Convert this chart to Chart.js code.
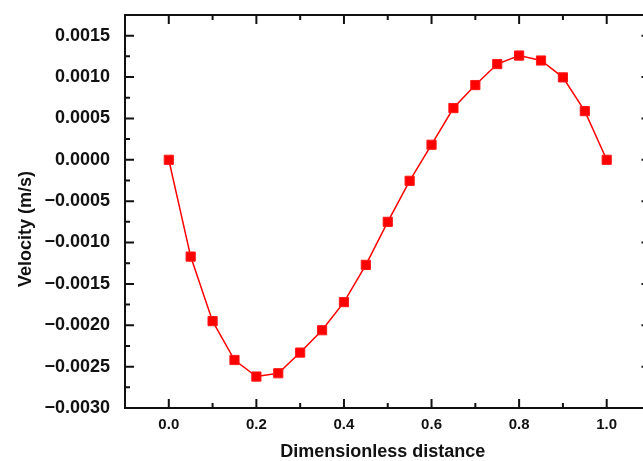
<!DOCTYPE html>
<html>
<head>
<meta charset="utf-8">
<script src="https://cdn.jsdelivr.net/npm/chart.js@4.4.1/dist/chart.umd.min.js"></script>
<style>
  html, body { margin: 0; padding: 0; background: #fff; overflow: hidden; }
  #wrap { width: 643px; height: 461px; overflow: hidden; }
</style>
</head>
<body>
<div id="wrap"><canvas id="chart" width="660" height="461"></canvas></div>
<script>
const distance = [0, 0.05, 0.1, 0.15, 0.2, 0.25, 0.3, 0.35, 0.4, 0.45, 0.5,
                  0.55, 0.6, 0.65, 0.7, 0.75, 0.8, 0.85, 0.9, 0.95, 1.0];
const velocity = [0, -0.00117, -0.00195, -0.00242, -0.00262, -0.00258, -0.00233, -0.00206, -0.00172, -0.00127, -0.00075,
                  -0.000254, 0.000182, 0.000625, 0.000903, 0.001157, 0.00126, 0.0012, 0.000996, 0.000588, 0];
const xTicks = [0, 0.2, 0.4, 0.6, 0.8, 1.0];
const yTicks = [-0.003, -0.0025, -0.002, -0.0015, -0.001, -0.0005, 0, 0.0005, 0.001, 0.0015];
const xRange = [-0.1, 1.1];
const yRange = [-0.003, 0.00175];

const fontName = "'Liberation Sans', Arial, sans-serif";
const nb = n => '\u00a0'.repeat(n);   // padding to nudge the axis titles off-centre

function fmtY(v) {
    if (Math.abs(v) < 1e-12) return '0.0000';
    return v.toFixed(4).replace('-', '\u2212');
}

// minor ticks halfway between majors, kept strictly inside the range
function minors(majors, lo, hi) {
    const step = majors[1] - majors[0];
    const out = [];
    majors.forEach(m => {
        [m - step / 2, m + step / 2].forEach(v => {
            if (v > lo + 1e-9 && v < hi - 1e-9 && !out.some(o => Math.abs(o - v) < 1e-9)) out.push(v);
        });
    });
    return out;
}

// box round the plot with inward ticks on all four sides
const frameTicks = {
    id: 'frameTicks',
    afterDraw(chart) {
        const { ctx, chartArea: a, scales: { x, y } } = chart;
        ctx.save();
        ctx.strokeStyle = '#111';
        ctx.lineWidth = 2;
        ctx.strokeRect(a.left, a.top, a.right - a.left, a.bottom - a.top);
        const tick = (px, len, vertical) => {
            ctx.beginPath();
            if (vertical) {
                ctx.moveTo(px, a.bottom); ctx.lineTo(px, a.bottom - len);
                ctx.moveTo(px, a.top); ctx.lineTo(px, a.top + len);
            } else {
                ctx.moveTo(a.left, px); ctx.lineTo(a.left + len, px);
                ctx.moveTo(a.right, px); ctx.lineTo(a.right - len, px);
            }
            ctx.stroke();
        };
        xTicks.forEach(v => tick(x.getPixelForValue(v), 9, true));
        minors(xTicks, xRange[0], xRange[1]).forEach(v => tick(x.getPixelForValue(v), 5, true));
        yTicks.forEach(v => tick(y.getPixelForValue(v), 9, false));
        minors(yTicks, yRange[0], yRange[1]).forEach(v => tick(y.getPixelForValue(v), 5, false));
        ctx.restore();
    }
};

new Chart(document.getElementById('chart'), {
    type: 'scatter',
    data: {
        datasets: [{
            data: distance.map((d, i) => ({ x: d, y: velocity[i] })),
            showLine: true,
            borderColor: '#ff0000',
            borderWidth: 1.5,
            pointStyle: 'rect',
            pointRadius: 6.5,
            pointBackgroundColor: '#ff0000',
            pointBorderColor: '#ff1a1a',
            pointBorderWidth: 1
        }]
    },
    options: {
        responsive: false,
        animation: false,
        layout: { padding: { left: 0, top: 15, right: 9.5, bottom: 0 } },
        plugins: { legend: { display: false }, tooltip: { enabled: false } },
        scales: {
            x: {
                type: 'linear',
                min: xRange[0],
                max: xRange[1],
                afterBuildTicks: s => { s.ticks = xTicks.map(value => ({ value })); },
                afterFit: s => { s.height = 53; s.paddingLeft = 0; s.paddingRight = 0; },
                grid: { display: false, drawTicks: false },
                border: { display: false },
                ticks: {
                    padding: 8,
                    color: '#111',
                    font: { family: fontName, size: 15, weight: 'bold' },
                    callback: v => v.toFixed(1)
                },
                title: {
                    display: true,
                    text: 'Dimensionless distance' + nb(2),
                    color: '#111',
                    padding: { top: 0, bottom: 0 },
                    font: { family: fontName, size: 18, weight: 'bold', lineHeight: 1 }
                }
            },
            y: {
                type: 'linear',
                min: yRange[0],
                max: yRange[1],
                afterBuildTicks: s => { s.ticks = yTicks.map(value => ({ value })); },
                afterFit: s => { s.width = 125; s.paddingTop = 0; s.paddingBottom = 0; },
                grid: { display: false, drawTicks: false },
                border: { display: false },
                ticks: {
                    padding: 15,
                    color: '#111',
                    font: { family: fontName, size: 18, weight: 'bold' },
                    callback: v => fmtY(v)
                },
                title: {
                    display: true,
                    text: 'Velocity (m/s)' + nb(7),
                    color: '#111',
                    padding: { top: 15, bottom: 0 },
                    font: { family: fontName, size: 18, weight: 'bold', lineHeight: 1.2 }
                }
            }
        }
    },
    plugins: [frameTicks]
});
</script>
</body>
</html>
